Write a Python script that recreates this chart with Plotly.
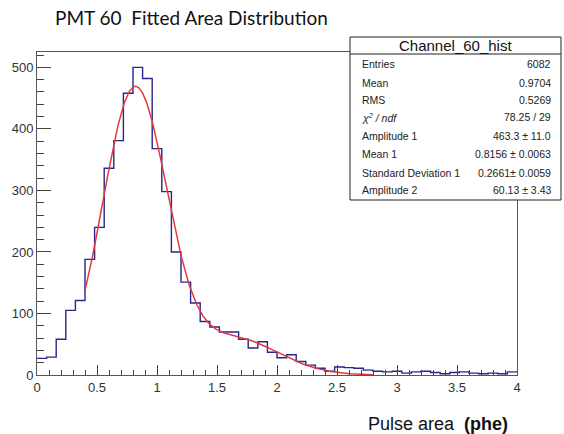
import numpy as np
import plotly.graph_objects as go

# Histogram: 50 bins of width 0.08 phe between 0 and 4
x_min, x_max = 0.0, 4.0
n_bins = 50
counts = [27, 29, 58, 105, 121, 188, 240, 336, 381, 458,
          500, 482, 368, 298, 200, 151, 117, 87, 78, 70,
          70, 58, 44, 54, 37, 28, 33, 22, 16, 11,
          6, 13, 12, 11, 8, 6, 5, 6, 3, 5,
          6, 4, 2, 4, 5, 3, 2, 3, 2, 5]

# Fit result: single-phe Gaussian plus double-phe Gaussian
amp1, mean1, sigma1, amp2 = 463.3, 0.8156, 0.2661, 60.13
fit_lo, fit_hi = 0.4, 2.8

# Statistics box contents
stats_title = "Channel_60_hist"
stat_labels = ["Entries", "Mean", "RMS", "<i>\u03c7<sup>2</sup> / ndf</i>",
               "Amplitude 1", "Mean 1", "Standard Deviation 1", "Amplitude 2"]
stat_values = ["6082", "0.9704", "0.5269", "78.25 / 29",
               "463.3 \u00b1 11.0", "0.8156 \u00b1 0.0063",
               "0.2661\u00b1 0.0059", "60.13 \u00b1 3.43"]

edges = np.linspace(x_min, x_max, n_bins + 1)
step_x = edges
step_y = counts + [counts[-1]]

xf = np.linspace(fit_lo, fit_hi, 400)
yf = (amp1 * np.exp(-(xf - mean1) ** 2 / (2 * sigma1 ** 2))
      + amp2 * np.exp(-(xf - 2 * mean1) ** 2 / (2 * 2 * sigma1 ** 2)))

W, H = 564, 434
L, R, T, B = 37, 47, 52, 59
pw, ph = W - L - R, H - T - B


def px(x):
    return (x - L) / pw


def py(y):
    return (H - B - y) / ph


fig = go.Figure()
fig.add_trace(go.Scatter(x=step_x, y=step_y, mode="lines", line_shape="hv",
                         line=dict(color="#26268c", width=1.4),
                         hoverinfo="skip", showlegend=False))
fig.add_trace(go.Scatter(x=xf, y=yf, mode="lines",
                         line=dict(color="#e23a3f", width=1.5),
                         hoverinfo="skip", showlegend=False))

axis_font = dict(family="Liberation Sans, Arial", size=13, color="#333")
fig.update_xaxes(range=[x_min, x_max], dtick=0.5, tick0=0,
                 ticks="inside", ticklen=10, tickcolor="#444",
                 minor=dict(dtick=0.1, ticks="inside", ticklen=5, tickcolor="#444"),
                 showline=True, linecolor="#555", linewidth=1, mirror=True,
                 showgrid=False, zeroline=False, tickfont=axis_font)
fig.update_yaxes(range=[0, 525], dtick=100, tick0=0,
                 ticks="inside", ticklen=14, tickcolor="#444",
                 minor=dict(dtick=20, ticks="inside", ticklen=7, tickcolor="#444"),
                 showline=True, linecolor="#555", linewidth=1, mirror=True,
                 showgrid=False, zeroline=False, tickfont=axis_font)

annotations = []
# Figure title
annotations.append(dict(x=px(53), y=py(18), xref="paper", yref="paper",
                        xanchor="left", yanchor="middle", showarrow=False,
                        text="PMT 60\u00a0\u00a0Fitted Area Distribution",
                        font=dict(family="Lato", size=19, color="#111")))
# Axis title
annotations.append(dict(x=px(366), y=py(424), xref="paper", yref="paper",
                        xanchor="left", yanchor="middle", showarrow=False,
                        text="Pulse area\u00a0\u00a0<b>(phe)</b>",
                        font=dict(family="Liberation Sans, Arial", size=18, color="#111")))

# Statistics box
box_x0, box_x1, box_y0, box_y1, sep_y = 350, 561, 37, 200, 54
shapes = [
    dict(type="rect", xref="paper", yref="paper",
         x0=px(box_x0), x1=px(box_x1), y0=py(box_y1), y1=py(box_y0),
         line=dict(color="#222", width=1), fillcolor="white", layer="above"),
    dict(type="line", xref="paper", yref="paper",
         x0=px(box_x0), x1=px(box_x1), y0=py(sep_y), y1=py(sep_y),
         line=dict(color="#222", width=1), layer="above"),
]
annotations.append(dict(x=px(455), y=py(45.5), xref="paper", yref="paper",
                        xanchor="center", yanchor="middle", showarrow=False,
                        text=stats_title,
                        font=dict(family="Liberation Sans, Arial", size=15, color="#111")))
row_y = [64.3, 82.7, 100, 117.3, 136, 154, 172.7, 190]
stat_font = dict(family="Liberation Sans, Arial", size=10.5, color="#222")
for lab, val, yy in zip(stat_labels, stat_values, row_y):
    annotations.append(dict(x=px(360), y=py(yy), xref="paper", yref="paper",
                            xanchor="left", yanchor="middle", showarrow=False,
                            text=lab, font=stat_font))
    annotations.append(dict(x=px(553), y=py(yy), xref="paper", yref="paper",
                            xanchor="right", yanchor="middle", showarrow=False,
                            text=val, font=stat_font))

fig.update_layout(width=W, height=H,
                  margin=dict(l=L, r=R, t=T, b=B, pad=0),
                  paper_bgcolor="white", plot_bgcolor="white",
                  annotations=annotations, shapes=shapes,
                  showlegend=False)

fig.write_html("out.html")
